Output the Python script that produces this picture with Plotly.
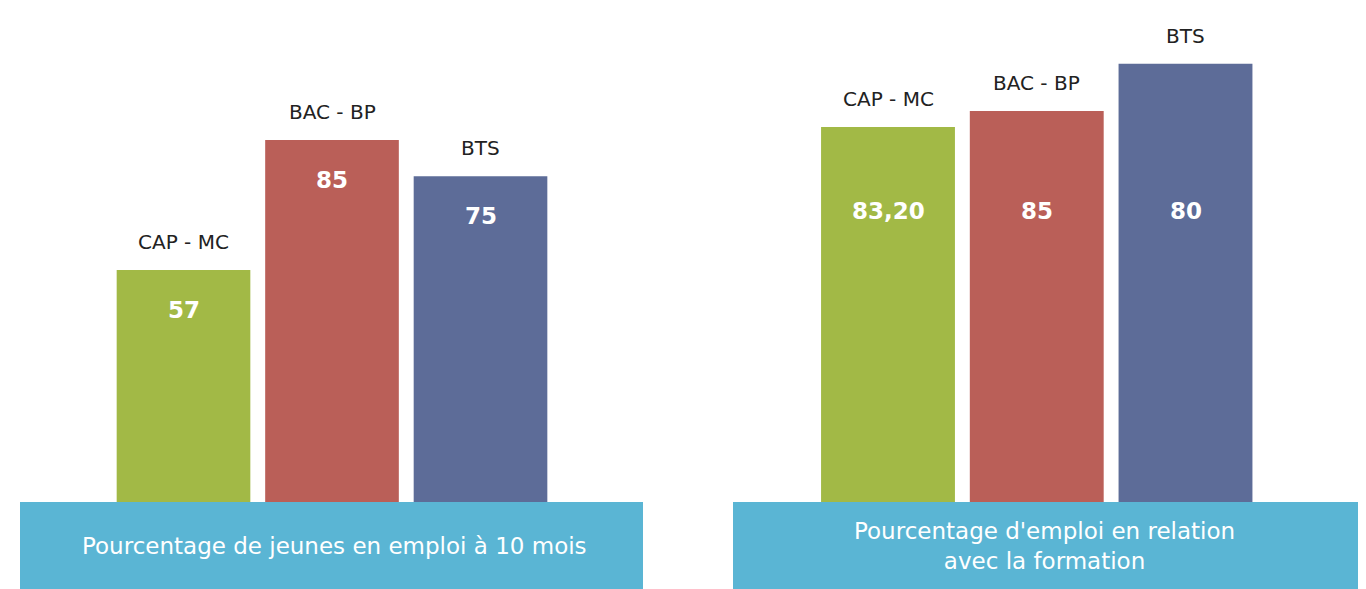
import plotly.graph_objects as go

# ---- data ----
categories = ["CAP - MC", "BAC - BP", "BTS"]
left_labels = ["57", "85", "75"]
left_heights = [46.2, 72.1, 64.9]          # bar heights as drawn (panel % scale)
right_labels = ["83,20", "85", "80"]
right_heights = [74.7, 77.9, 87.3]         # bar heights as drawn (panel % scale)
left_title = "Pourcentage de jeunes en emploi à 10 mois"
right_title = "Pourcentage d'emploi en relation<br>avec la formation"
colors = ["#a2b946", "#ba5f58", "#5d6c98"]
banner_color = "#5ab5d4"

W, H = 1366, 589
OFF = 8                      # page body margin offset
PX_PER_UNIT = 5.02
base_from_top = 502 - OFF    # bar base, figure px from top
bottom_px = H - base_from_top

fig = go.Figure()
xs = [0, 1, 2]
fig.add_trace(go.Bar(x=xs, y=left_heights, marker=dict(color=colors, line=dict(width=0)),
                     width=0.9, xaxis="x", yaxis="y", hoverinfo="skip"))
fig.add_trace(go.Bar(x=xs, y=right_heights, marker=dict(color=colors, line=dict(width=0)),
                     width=0.9, xaxis="x2", yaxis="y2", hoverinfo="skip"))

annotations = []
font_fam = "DejaVu Sans, sans-serif"
right_value_y = (502 - 211) / PX_PER_UNIT
for xref, yref, hs, labs in [("x", "y", left_heights, left_labels), ("x2", "y2", right_heights, right_labels)]:
    for i, (h, lab) in enumerate(zip(hs, labs)):
        annotations.append(dict(x=i, y=h, xref=xref, yref=yref, text=categories[i],
                                showarrow=False, yanchor="bottom", yshift=14, xanchor="center",
                                font=dict(size=20, color="#222222", family=font_fam)))
        if xref == "x":
            annotations.append(dict(x=i, y=h, xref=xref, yref=yref, text="<b>%s</b>" % lab,
                                    showarrow=False, yanchor="middle", yshift=-40, xanchor="center",
                                    font=dict(size=23, color="#ffffff", family=font_fam)))
        else:
            annotations.append(dict(x=i, y=right_value_y, xref=xref, yref=yref, text="<b>%s</b>" % lab,
                                    showarrow=False, yanchor="middle", xanchor="center",
                                    font=dict(size=23, color="#ffffff", family=font_fam)))

def px_x(v):
    return (v - OFF) / W

def px_y(v):
    return (H - (v - OFF)) / H

# banners
shapes = [
    dict(type="rect", xref="paper", yref="paper", x0=px_x(20), x1=px_x(643), y0=0, y1=px_y(502),
         fillcolor=banner_color, line=dict(width=0), layer="below"),
    dict(type="rect", xref="paper", yref="paper", x0=px_x(733), x1=px_x(1358), y0=0, y1=px_y(502),
         fillcolor=banner_color, line=dict(width=0), layer="below"),
]
annotations.append(dict(x=px_x(334), y=px_y(546), xref="paper", yref="paper",
                        text=left_title, showarrow=False, yanchor="middle", xanchor="center",
                        font=dict(size=23, color="#ffffff", family=font_fam)))
annotations.append(dict(x=px_x(1044), y=px_y(546), xref="paper", yref="paper",
                        text=right_title, showarrow=False, yanchor="middle", xanchor="center",
                        font=dict(size=23, color="#ffffff", family=font_fam)))

ax_common = dict(showgrid=False, zeroline=False, showticklabels=False, showline=False, fixedrange=True)
yrange = [0, base_from_top / PX_PER_UNIT]
fig.update_layout(
    width=W, height=H,
    margin=dict(l=0, r=0, t=0, b=0),
    paper_bgcolor="#ffffff", plot_bgcolor="rgba(0,0,0,0)",
    showlegend=False,
    xaxis=dict(domain=[px_x(35), px_x(629)], range=[-1, 3], **ax_common),
    yaxis=dict(domain=[bottom_px / H, 1], range=yrange, **ax_common),
    xaxis2=dict(domain=[px_x(739.25), px_x(1334.25)], range=[-1, 3], anchor="y2", **ax_common),
    yaxis2=dict(domain=[bottom_px / H, 1], range=yrange, anchor="x2", **ax_common),
    shapes=shapes,
    annotations=annotations,
)

fig.write_html("out.html")
